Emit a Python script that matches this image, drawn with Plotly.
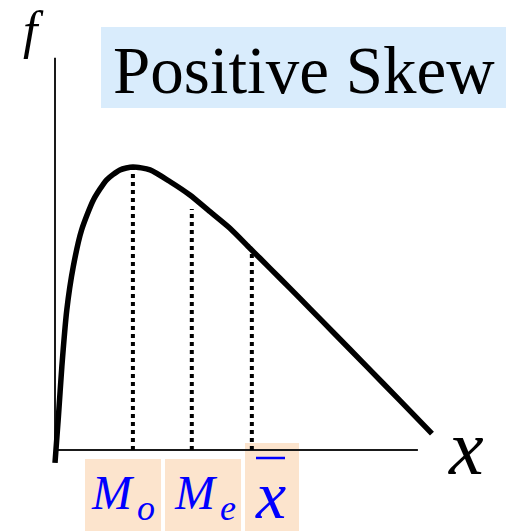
import plotly.graph_objects as go

# Density curve of a positively skewed distribution (x, f)
curve_x = [0.00, 0.09, 0.18, 0.31, 0.48, 0.70, 1.01, 1.36, 1.71, 2.05, 2.50, 3.03,
           3.55, 4.08, 4.61, 5.13, 5.66, 6.18, 6.71, 7.32, 8.20, 9.08, 9.92]
curve_f = [-0.34, 0.88, 2.19, 3.68, 4.82, 5.79, 6.58, 7.11, 7.37, 7.45, 7.37, 7.06,
           6.71, 6.27, 5.83, 5.31, 4.78, 4.26, 3.72, 3.10, 2.20, 1.30, 0.43]

# Mode, median and mean positions with the height of their guide lines
stat_names = ["mode", "median", "mean"]
stat_x = [2.05, 3.60, 5.18]
stat_top = [7.45, 6.34, 5.16]

# Axis extents
x_axis_end = 9.55
f_axis_end = 10.32

title_text = "Positive Skew"

W, H = 506, 531
PX = 38.0          # pixels per data unit
X0, Y0 = 55, 450   # pixel position of the origin
SERIF = "Liberation Serif"


def px(x):
    return x / W


def py(y):
    return 1 - y / H


def line_trace(xs, ys, **line):
    return go.Scatter(x=xs, y=ys, mode="lines", line=line,
                      hoverinfo="skip", showlegend=False)


fig = go.Figure()

# axes
fig.add_trace(line_trace([0, 0], [0, f_axis_end], color="#1a1a1a", width=2))
fig.add_trace(line_trace([0, x_axis_end], [0, 0], color="#1a1a1a", width=2))

# guide lines from the axis up to the curve
for xs, top in zip(stat_x, stat_top):
    fig.add_trace(line_trace([xs, xs], [0, top], color="black", width=4, dash="dot"))

# density curve
fig.add_trace(line_trace(curve_x, curve_f, color="black", width=5.5,
                         shape="spline", smoothing=0.6))

PEACH = "#fce4cd"


def rect(x0, x1, y0, y1, fill):
    return dict(type="rect", xref="paper", yref="paper", x0=px(x0), x1=px(x1),
                y0=py(y1), y1=py(y0), fillcolor=fill, line=dict(width=0),
                layer="below")


shapes = [
    rect(101, 506, 27, 108, "#d9ecfc"),   # title background
    rect(85, 161, 459, 531, PEACH),        # mode label
    rect(165, 241, 459, 531, PEACH),       # median label
    rect(245, 299, 443, 531, PEACH),       # mean label
    # bar over the mean symbol
    dict(type="line", xref="paper", yref="paper", x0=px(256), x1=px(285),
         y0=py(458), y1=py(458), line=dict(color="#0000ff", width=2.5)),
]


def label(text, x, y, size, color="black", italic=False, anchor="left"):
    return dict(text=text, x=px(x), y=py(y), xref="paper", yref="paper",
                showarrow=False, xanchor=anchor, yanchor="middle",
                font=dict(family=SERIF, size=size, color=color,
                          style="italic" if italic else "normal"))


BLUE = "#0000ff"
annotations = [
    label(title_text, 111, 70, 67),
    label("f", 33, 31, 52, italic=True, anchor="center"),
    label("x", 446, 447, 78, italic=True),
    label("M", 89, 492, 48, BLUE, True),
    label("o", 135, 508, 36, BLUE, True),
    label("M", 172, 492, 48, BLUE, True),
    label("e", 218, 508, 36, BLUE, True),
    label("x", 253, 495, 68, BLUE, True),
]

fig.update_layout(
    width=W, height=H,
    margin=dict(l=0, r=0, t=0, b=0),
    plot_bgcolor="white",
    xaxis=dict(range=[-X0 / PX, (W - X0) / PX], visible=False),
    yaxis=dict(range=[-(H - Y0) / PX, Y0 / PX], visible=False),
    shapes=shapes,
    annotations=annotations,
)

fig.write_html("out.html")
